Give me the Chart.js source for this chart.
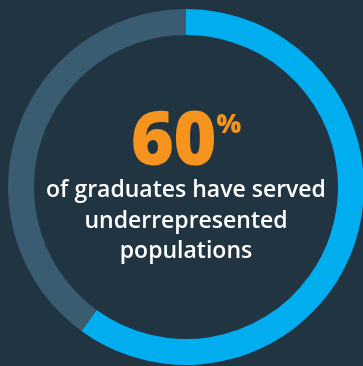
<!DOCTYPE html>
<html>
<head>
<meta charset="utf-8">
<script src="https://cdn.jsdelivr.net/npm/chart.js@4"></script>
<style>
  html, body {
    margin: 0;
    padding: 0;
    width: 363px;
    height: 366px;
    overflow: hidden;
    background: #213442;
  }
  .ring {
    position: absolute;
    left: 8px;
    top: 9px;
    width: 356px;
    height: 356px;
  }
  .big {
    position: absolute;
    left: 0;
    width: 372px;
    top: 92px;
    text-align: center;
    font-family: "Open Sans", sans-serif;
    font-weight: 800;
    font-size: 74px;
    line-height: 90px;
    color: #f7941d;
    letter-spacing: -1px;
  }
  .big sup {
    font-size: 26px;
    line-height: 0;
    vertical-align: baseline;
    position: relative;
    top: -32px;
    margin-left: 1px;
    letter-spacing: 0;
  }
  .caption {
    position: absolute;
    left: 0;
    width: 372px;
    top: 173px;
    text-align: center;
    font-family: "Open Sans", sans-serif;
    font-weight: 600;
    font-size: 23px;
    line-height: 30.5px;
    color: #ffffff;
  }
</style>
</head>
<body>
<div class="ring"><canvas id="ringChart"></canvas></div>
<div class="big" id="bigNumber"></div>
<div class="caption" id="caption"></div>

<script>
// chart data
const categories = ['Served underrepresented populations', 'Other graduates'];
const shares = [60, 40];
const captionLines = ['of graduates have served', 'underrepresented', 'populations'];

document.addEventListener('DOMContentLoaded', function () {
    // headline number + caption
    document.getElementById('bigNumber').innerHTML = shares[0] + '<sup>%</sup>';
    document.getElementById('caption').innerHTML = captionLines.join('<br>');

    const ctx = document.getElementById('ringChart').getContext('2d');
    new Chart(ctx, {
        type: 'doughnut',
        data: {
            labels: categories,
            datasets: [{
                data: shares,
                backgroundColor: ['#00adee', '#395c70'],
                borderWidth: 0
            }]
        },
        options: {
            responsive: true,
            maintainAspectRatio: false,
            animation: false,
            cutout: '85.4%',
            layout: { padding: 0 },
            plugins: {
                legend: { display: false },
                tooltip: { enabled: false }
            }
        }
    });
});
</script>
</body>
</html>
